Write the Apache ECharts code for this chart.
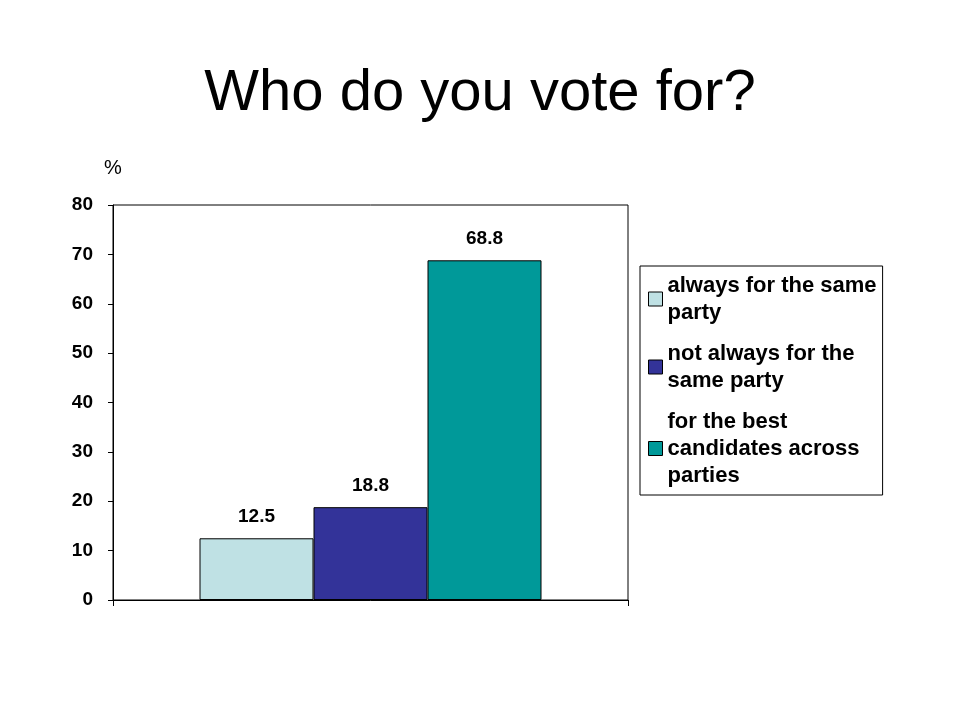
<!DOCTYPE html>
<html>
<head>
<meta charset="utf-8">
<script src="https://cdn.jsdelivr.net/npm/echarts@6/dist/echarts.min.js"></script>
<style>html,body{margin:0;background:#fff}#main{width:960px;height:720px}</style>
</head>
<body>
<div id="main"></div>
<script>
// 数据
const categories = ['']
const seriesNames = ['always for the same\nparty', 'not always for the\nsame party', 'for the best\ncandidates across\nparties']
const seriesValues = [12.5, 18.8, 68.8]
const seriesColors = ['#BFE1E4', '#333399', '#009999']
const yTicks = [0, 10, 20, 30, 40, 50, 60, 70, 80]

const chart = echarts.init(document.getElementById('main'))
const font = 'Liberation Sans'
chart.setOption({
    animation: false,
    textStyle: { fontFamily: font },
    title: {
        text: 'Who do you vote for?',
        left: 'center',
        top: 60,
        textStyle: { fontSize: 58, fontWeight: 'normal', color: '#000', fontFamily: font }
    },
    graphic: [{
        type: 'text', left: 104, top: 158,
        style: { text: '%', fontSize: 20, fill: '#000', fontFamily: font }
    }],
    legend: {
        orient: 'vertical',
        left: 640, top: 266,
        padding: [6, 6, 6, 8],
        itemGap: 14,
        itemWidth: 14, itemHeight: 14,
        borderColor: '#000', borderWidth: 1,
        icon: 'rect',
        textStyle: { fontSize: 22, fontWeight: 'bold', color: '#000', lineHeight: 27, fontFamily: font },
        itemStyle: { borderColor: '#000', borderWidth: 1 }
    },
    grid: {
        left: 113, top: 205, width: 515, height: 395,
        show: true, borderColor: '#000', borderWidth: 1
    },
    xAxis: {
        type: 'category',
        data: categories,
        axisLine: { lineStyle: { color: '#000' } },
        axisTick: { show: true, length: 6, lineStyle: { color: '#000' } },
        axisLabel: { show: false }
    },
    yAxis: {
        type: 'value',
        min: yTicks[0], max: yTicks[yTicks.length - 1], interval: 10,
        axisLine: { show: true, lineStyle: { color: '#000' } },
        axisTick: { show: true, length: 5, lineStyle: { color: '#000' } },
        splitLine: { show: false },
        axisLabel: { fontSize: 19, fontWeight: 'bold', color: '#000', margin: 20, fontFamily: font }
    },
    series: seriesNames.map((name, i) => ({
        name: name,
        type: 'bar',
        data: [seriesValues[i]],
        barWidth: 114,
        barGap: '0%',
        itemStyle: { color: seriesColors[i], borderColor: '#000', borderWidth: 1 },
        label: {
            show: true, position: 'top', distance: 12,
            fontSize: 19, fontWeight: 'bold', color: '#000', fontFamily: font,
            formatter: p => p.value.toFixed(1)
        }
    }))
})
</script>
</body>
</html>
